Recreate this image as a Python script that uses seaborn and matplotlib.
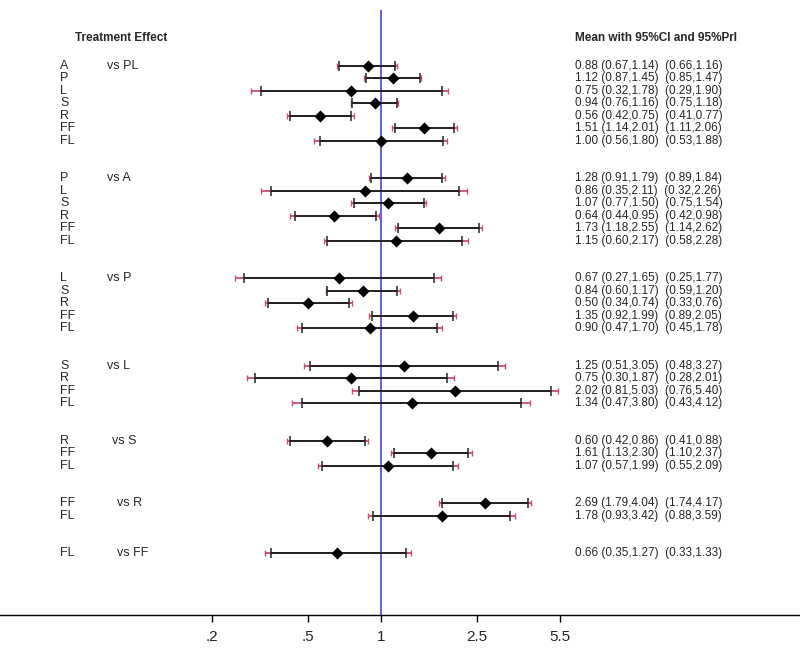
import numpy as np
import pandas as pd
import matplotlib
matplotlib.use("Agg")
import matplotlib.pyplot as plt
import matplotlib.transforms as mtransforms
import seaborn as sns

# Comparators and the treatments compared against each of them
comparators = ["PL", "A", "P", "L", "S", "R", "FF"]
treatments = [
    ["A", "P", "L", "S", "R", "FF", "FL"],
    ["P", "L", "S", "R", "FF", "FL"],
    ["L", "S", "R", "FF", "FL"],
    ["S", "R", "FF", "FL"],
    ["R", "FF", "FL"],
    ["FF", "FL"],
    ["FL"],
]

# Mean, 95% CI and 95% PrI, row by row
means = [0.88, 1.12, 0.75, 0.94, 0.56, 1.51, 1.00,
         1.28, 0.86, 1.07, 0.64, 1.73, 1.15,
         0.67, 0.84, 0.50, 1.35, 0.90,
         1.25, 0.75, 2.02, 1.34,
         0.60, 1.61, 1.07,
         2.69, 1.78,
         0.66]
ci_low = [0.67, 0.87, 0.32, 0.76, 0.42, 1.14, 0.56,
          0.91, 0.35, 0.77, 0.44, 1.18, 0.60,
          0.27, 0.60, 0.34, 0.92, 0.47,
          0.51, 0.30, 0.81, 0.47,
          0.42, 1.13, 0.57,
          1.79, 0.93,
          0.35]
ci_high = [1.14, 1.45, 1.78, 1.16, 0.75, 2.01, 1.80,
           1.79, 2.11, 1.50, 0.95, 2.55, 2.17,
           1.65, 1.17, 0.74, 1.99, 1.70,
           3.05, 1.87, 5.03, 3.80,
           0.86, 2.30, 1.99,
           4.04, 3.42,
           1.27]
pri_low = [0.66, 0.85, 0.29, 0.75, 0.41, 1.11, 0.53,
           0.89, 0.32, 0.75, 0.42, 1.14, 0.58,
           0.25, 0.59, 0.33, 0.89, 0.45,
           0.48, 0.28, 0.76, 0.43,
           0.41, 1.10, 0.55,
           1.74, 0.88,
           0.33]
pri_high = [1.16, 1.47, 1.90, 1.18, 0.77, 2.06, 1.88,
            1.84, 2.26, 1.54, 0.98, 2.62, 2.28,
            1.77, 1.20, 0.76, 2.05, 1.78,
            3.27, 2.01, 5.40, 4.12,
            0.88, 2.37, 2.09,
            4.17, 3.59,
            1.33]

tick_vals = [0.2, 0.5, 1, 2.5, 5.5]
tick_labels = [".2", ".5", "1", "2.5", "5.5"]

# row positions: two blank rows between groups
rows, labels, group_first = [], [], []
pos = 0
for g, trts in enumerate(treatments):
    group_first.append(pos)
    for t in trts:
        rows.append(pos)
        labels.append(t)
        pos += 1
    pos += 2

df = pd.DataFrame({"row": rows, "label": labels, "mean": means,
                   "ci_low": ci_low, "ci_high": ci_high,
                   "pri_low": pri_low, "pri_high": pri_high})

sns.set_style("white")
plt.rcParams["font.family"] = ["Liberation Sans", "DejaVu Sans"]

fig = plt.figure(figsize=(8, 6.65), dpi=100)
ax = fig.add_axes([0, 50 / 665, 1, 605 / 665])

pri_col = "#c8506e"
ci_col = "#222222"

# prediction intervals (pink) then confidence intervals (black) on top
ax.hlines(df["row"], df["pri_low"], df["pri_high"], color=pri_col, lw=1.3, zorder=2)
ax.plot(df["pri_low"], df["row"], ls="none", marker="|", ms=5, mew=1, color=pri_col, zorder=2)
ax.plot(df["pri_high"], df["row"], ls="none", marker="|", ms=5, mew=1, color=pri_col, zorder=2)
ax.hlines(df["row"], df["ci_low"], df["ci_high"], color=ci_col, lw=1.4, zorder=3)
ax.plot(df["ci_low"], df["row"], ls="none", marker="|", ms=6.5, mew=1.1, color=ci_col, zorder=3)
ax.plot(df["ci_high"], df["row"], ls="none", marker="|", ms=6.5, mew=1.1, color=ci_col, zorder=3)

sns.scatterplot(data=df, x="mean", y="row", marker="D", s=38, color="black",
                edgecolor="black", linewidth=0, zorder=4, ax=ax, legend=False)

ax.axvline(1, color="#3535cc", lw=1.1, zorder=1)

ax.set_xscale("log")
ax.set_xlim(np.exp(-381 / 105), np.exp(419 / 105))
ax.set_ylim(43.94, -4.46)
ax.set_xticks(tick_vals)
ax.set_xticklabels(tick_labels, fontsize=11)
ax.minorticks_off()
ax.set_yticks([])
ax.set_xlabel("")
ax.set_ylabel("")
ax.tick_params(axis="x", direction="out", length=5, width=1, color="black", pad=6, bottom=True)
for s in ["top", "left", "right"]:
    ax.spines[s].set_visible(False)
ax.spines["bottom"].set_color("black")
ax.spines["bottom"].set_linewidth(1)

trans = mtransforms.blended_transform_factory(ax.transAxes, ax.transData)
fs = 8.5

# headers
ax.text(75 / 800, -2.2, "Treatment Effect", transform=trans, fontsize=fs,
        fontweight="bold", va="center", ha="left")
ax.text(575 / 800, -2.2, "Mean with 95%CI and 95%PrI", transform=trans, fontsize=fs,
        fontweight="bold", va="center", ha="left")

vs_x = [107, 107, 107, 107, 112, 117, 117]
for g, comp in enumerate(comparators):
    ax.text(vs_x[g] / 800, group_first[g], "vs " + comp, transform=trans,
            fontsize=fs + 0.5, va="center", ha="left")

for _, r in df.iterrows():
    ax.text(60 / 800, r["row"], r["label"], transform=trans, fontsize=fs + 0.5,
            va="center", ha="left")
    txt = f"{r['mean']:.2f} ({r['ci_low']:.2f},{r['ci_high']:.2f})  ({r['pri_low']:.2f},{r['pri_high']:.2f})"
    ax.text(575 / 800, r["row"], txt, transform=trans, fontsize=fs,
            va="center", ha="left")

fig.savefig("out.png", dpi=100)
